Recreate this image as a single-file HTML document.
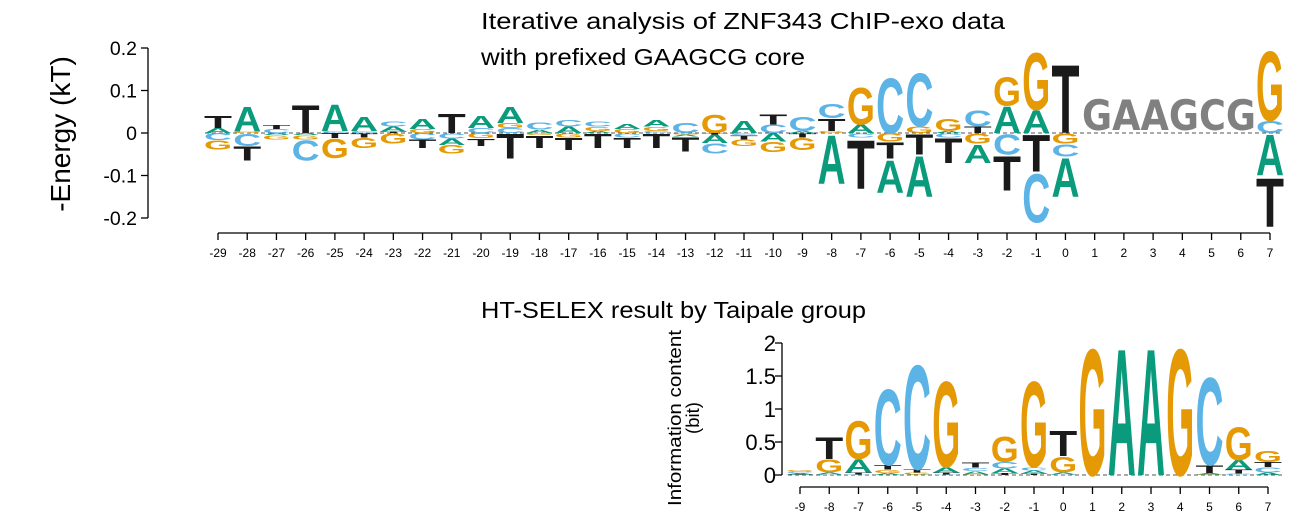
<!DOCTYPE html>
<html><head><meta charset="utf-8">
<style>
html,body{margin:0;padding:0;background:#fff;}
svg{display:block;font-family:"Liberation Sans",sans-serif;}
</style></head>
<body>
<svg id="chart" width="1307" height="522" viewBox="0 0 1307 522" xmlns="http://www.w3.org/2000/svg">
  <text x="481" y="29" font-size="23" fill="#000" textLength="524" lengthAdjust="spacingAndGlyphs">Iterative analysis of ZNF343 ChIP-exo data</text>
  <text x="481" y="65" font-size="23" fill="#000" textLength="324" lengthAdjust="spacingAndGlyphs">with prefixed GAAGCG core</text>
  <text x="481" y="318" font-size="23" fill="#000" textLength="385" lengthAdjust="spacingAndGlyphs">HT-SELEX result by Taipale group</text>
  <text transform="translate(70,134) rotate(-90)" text-anchor="middle" font-size="28" fill="#000">-Energy (kT)</text>
  <text transform="translate(681,418) rotate(-90)" text-anchor="middle" font-size="18.5" fill="#000" textLength="176" lengthAdjust="spacingAndGlyphs">Information content</text>
  <text transform="translate(699,418) rotate(-90)" text-anchor="middle" font-size="18.5" fill="#000">(bit)</text>
  <g id="top"></g>
  <g id="bot"></g>
  <text x="1082" y="130" font-family="'DejaVu Sans','Liberation Sans',sans-serif" font-weight="bold" font-size="42" fill="#808080" textLength="174" lengthAdjust="spacingAndGlyphs">GAAGCG</text>
</svg>
<script>
const topLabels = ["-29","-28","-27","-26","-25","-24","-23","-22","-21","-20","-19","-18","-17","-16","-15","-14","-13","-12","-11","-10","-9","-8","-7","-6","-5","-4","-3","-2","-1","0","1","2","3","4","5","6","7"];
const topA = [.012,.06,-.005,-.005,.065,.035,.012,.025,-.015,.03,.04,.008,.015,.005,.012,.015,-.005,-.02,.03,-.02,.005,-.12,.02,-.08,-.1,.005,-.045,.065,.055,-.095,0,0,0,0,0,0,-.1];
const topC = [-.017,-.03,.01,-.05,.005,.005,.012,-.015,-.013,.012,.012,.018,.015,.012,-.01,.005,.025,-.025,-.005,.02,.035,.035,-.01,.135,.13,-.01,.04,-.05,-.12,-.03,0,0,0,0,0,0,.03];
const topG = [-.022,.003,-.01,-.01,-.047,-.025,-.025,.01,-.02,-.012,.012,-.005,-.01,.01,.01,.01,-.003,.045,-.015,-.025,-.03,.005,.09,-.02,.015,.03,-.025,.07,.14,-.025,0,0,0,0,0,0,.17];
const topT = [.03,-.035,.01,.068,-.012,-.01,.003,-.02,.047,-.018,-.06,-.03,-.03,-.035,-.025,-.035,-.035,-.003,-.01,.025,-.01,.03,-.12,-.04,-.05,-.06,.015,-.085,-.09,.167,0,0,0,0,0,0,-.12];
const topTicks = [0.2,0.1,0,-0.1,-0.2];
const topTickText = ["0.2","0.1","0","-0.1","-0.2"];

const botLabels = ["-9","-8","-7","-6","-5","-4","-3","-2","-1","0","1","2","3","4","5","6","7"];
const botA = [.02,.03,.2,.03,.01,.08,.05,.07,.05,.03,0,2,2,0,.02,.15,.04];
const botC = [.02,.01,.01,1.2,1.65,.01,.05,.1,.05,.01,0,0,0,0,1.38,.02,.08];
const botG = [.02,.2,.6,.05,.03,1.35,.01,.4,1.35,.25,2,0,0,2,.01,.52,.17];
const botT = [.01,.35,.03,.07,.05,.03,.08,.03,.02,.4,0,0,0,0,.12,.06,.08];
const botTicks = [0,0.5,1,1.5,2];
const botTickText = ["0","0.5","1","1.5","2"];

const NS = "http://www.w3.org/2000/svg";
const COL = {A:"#0A9B7C", C:"#5BB3E6", G:"#E59A05", T:"#1A1A1A"};

function mk(tag, attrs, parent){
  const e = document.createElementNS(NS, tag);
  for (const k in attrs) e.setAttribute(k, attrs[k]);
  parent.appendChild(e);
  return e;
}
function letter(g, ch, cx, bottomY, w, h){
  if (h < 0.4) return;
  const t = mk("text", {x:0, y:0, "font-size":100, "font-weight":"bold", fill:COL[ch], textLength:70, lengthAdjust:"spacingAndGlyphs",
    transform:`translate(${cx - w/2},${bottomY}) scale(${w/70},${h/72.9})`}, g);
  
  
  t.textContent = ch;
}
function drawStack(g, cx, y0, pxPerUnit, vals, w){
  const pos = [], neg = [];
  for (const k in vals){ if (vals[k] > 0) pos.push([k, vals[k]]); else if (vals[k] < 0) neg.push([k, -vals[k]]); }
  pos.sort((a,b)=>a[1]-b[1]); neg.sort((a,b)=>a[1]-b[1]);
  let y = y0;
  for (const [k,v] of pos){ const h = v*pxPerUnit; letter(g, k, cx, y, w, h); y -= h; }
  y = y0;
  for (const [k,v] of neg){ const h = v*pxPerUnit; letter(g, k, cx, y + h, w, h); y += h; }
}

// ---- top chart ----
const tg = document.getElementById("top");
const tX0 = 218, tDX = (1270-218)/36, tY0 = 133, tS = 425;
const tx = i => tX0 + i*tDX;
const ty = v => tY0 - v*tS;
let ax = mk("line", {x1:148, y1:ty(0.2), x2:148, y2:ty(-0.2), stroke:"#000", "stroke-width":1.3}, tg);


topTicks.forEach((v,i)=>{
  const l = mk("line", {x1:141, y1:ty(v), x2:148, y2:ty(v), stroke:"#000", "stroke-width":1.3}, tg);
  
  
  const t = mk("text", {x:137, y:ty(v)+7, "text-anchor":"end", "font-size":19.5}, tg);
  
  
  t.textContent = topTickText[i];
});
const bl = mk("line", {x1:205, y1:tY0, x2:1283, y2:tY0, stroke:"#555", "stroke-width":1, "stroke-dasharray":"4,3"}, tg);


const xa = mk("line", {x1:tx(0), y1:233, x2:tx(36), y2:233, stroke:"#000", "stroke-width":1.3}, tg);


topLabels.forEach((lab,i)=>{
  const l = mk("line", {x1:tx(i), y1:233, x2:tx(i), y2:240, stroke:"#000", "stroke-width":1.3}, tg);
  
  
  const t = mk("text", {x:tx(i), y:257, "text-anchor":"middle", "font-size":12}, tg);
  
  
  t.textContent = lab;
  drawStack(tg, tx(i), tY0, tS, {A:topA[i], C:topC[i], G:topG[i], T:topT[i]}, 28);
});

// ---- bottom chart ----
const bg = document.getElementById("bot");
const bX0 = 800, bDX = (1268-800)/16, bY0 = 475, bS = 66;
const bx = i => bX0 + i*bDX;
const by = v => bY0 - v*bS;
ax = mk("line", {x1:782, y1:by(2), x2:782, y2:by(0), stroke:"#000", "stroke-width":1.3}, bg);


botTicks.forEach((v,i)=>{
  const l = mk("line", {x1:775, y1:by(v), x2:782, y2:by(v), stroke:"#000", "stroke-width":1.3}, bg);
  
  
  const t = mk("text", {x:776, y:by(v)+8, "text-anchor":"end", "font-size":22}, bg);
  
  
  t.textContent = botTickText[i];
});
const bl2 = mk("line", {x1:788, y1:bY0, x2:1283, y2:bY0, stroke:"#555", "stroke-width":1, "stroke-dasharray":"4,3"}, bg);


const xa2 = mk("line", {x1:bx(0), y1:487, x2:bx(16), y2:487, stroke:"#000", "stroke-width":1.3}, bg);


botLabels.forEach((lab,i)=>{
  const l = mk("line", {x1:bx(i), y1:487, x2:bx(i), y2:494, stroke:"#000", "stroke-width":1.3}, bg);
  
  
  const t = mk("text", {x:bx(i), y:511, "text-anchor":"middle", "font-size":12}, bg);
  
  
  t.textContent = lab;
  drawStack(bg, bx(i), bY0, bS, {A:botA[i], C:botC[i], G:botG[i], T:botT[i]}, 28);
});
</script>
</body></html>
